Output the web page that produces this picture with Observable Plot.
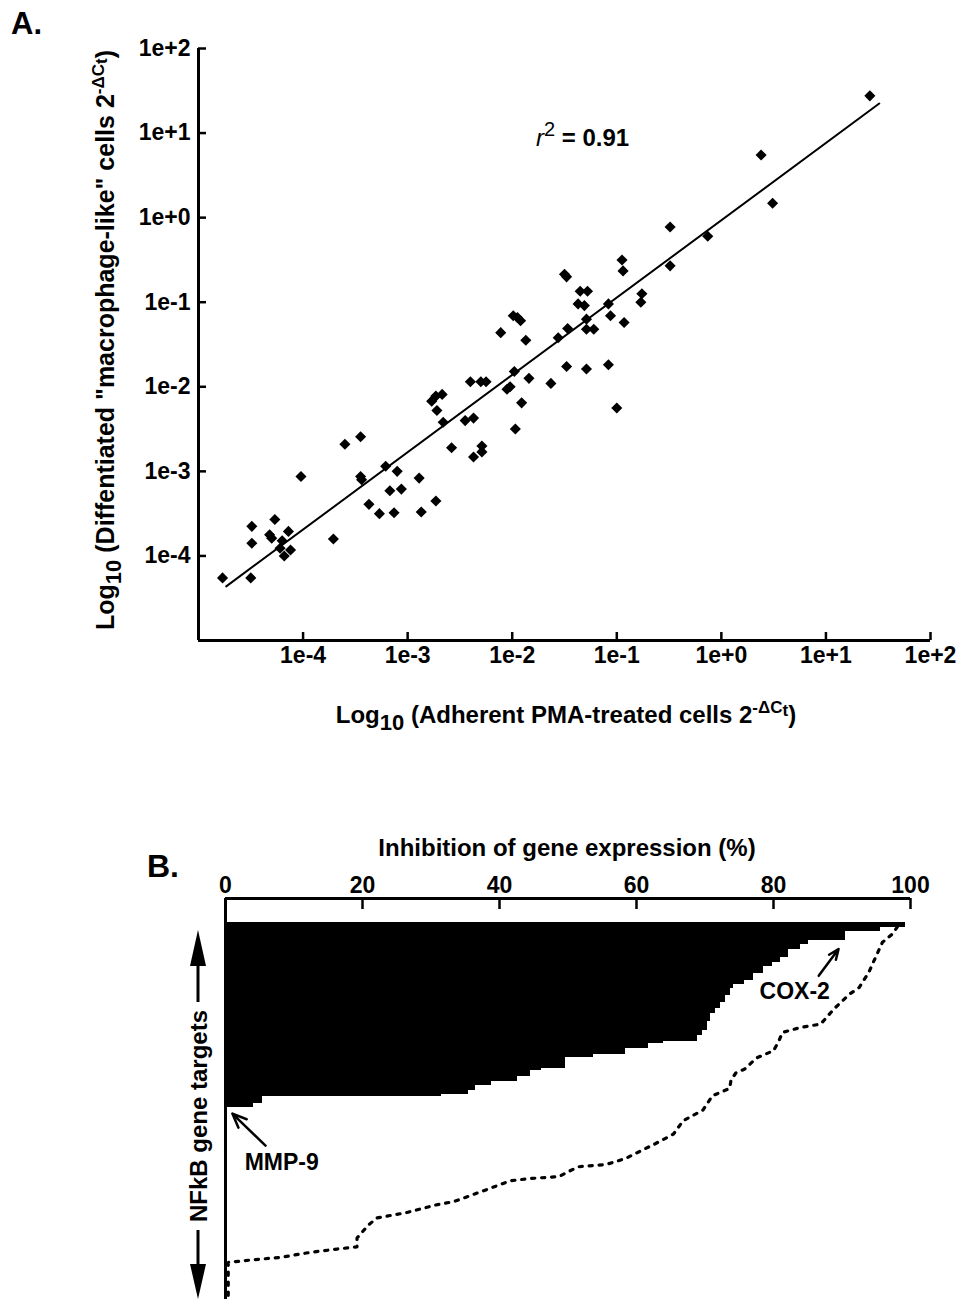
<!DOCTYPE html>
<html><head><meta charset="utf-8">
<script src="https://cdn.jsdelivr.net/npm/d3@7"></script>
<script src="https://cdn.jsdelivr.net/npm/@observablehq/plot@0.6"></script>
<style>
body{margin:0;background:#fff;}
#wrap{position:relative;width:966px;height:1299px;overflow:hidden;background:#fff;}
#a{position:absolute;left:0;top:0;}
#b{position:absolute;left:0;top:820px;}
svg text{font-family:"Liberation Sans",Arial,sans-serif;}
</style></head><body><div id="wrap"><div id="a"></div><div id="b"></div></div>
<script>
// ---------- Panel A data (log10 of 2^-dCt values) ----------
const adherentLog10 = [-4.77,-4.50,-4.49,-4.49,-4.27,-4.32,-4.30,-4.20,-4.22,-4.18,-4.12,-4.14,-4.02,-3.71,-3.60,-3.45,-3.45,-3.44,-3.37,-3.27,-3.21,-3.17,-3.13,-3.10,-3.06,-2.89,-2.87,-2.73,-2.77,-2.73,-2.67,-2.72,-2.66,-2.58,-2.45,-2.40,-2.30,-2.25,-2.37,-2.37,-2.29,-2.29,-2.11,-1.99,-1.95,-1.92,-1.87,-2.05,-2.02,-1.98,-1.97,-1.91,-1.84,-1.63,-1.56,-1.48,-1.47,-1.37,1.42,0.38,0.49,-0.49,-0.13,-0.49,-1.50,-1.48,-0.95,-0.94,-1.35,-1.28,-1.31,-1.08,-1.06,-0.93,-0.76,-0.77,-1.29,-1.29,-1.22,-1.29,-1.08,-1.00];
const differentiatedLog10 = [-4.26,-4.26,-3.85,-3.65,-3.57,-3.75,-3.79,-3.82,-3.91,-4.00,-3.93,-3.71,-3.06,-3.80,-2.68,-2.59,-3.06,-3.10,-3.39,-3.50,-2.94,-3.23,-3.49,-3.00,-3.21,-3.08,-3.48,-3.35,-2.17,-2.11,-2.09,-2.28,-2.42,-2.72,-2.40,-1.94,-1.94,-1.94,-2.37,-2.83,-2.70,-2.77,-1.36,-1.16,-1.18,-1.22,-1.45,-2.03,-2.00,-1.82,-2.50,-2.19,-1.90,-1.96,-1.42,-1.76,-1.31,-1.02,1.44,0.74,0.17,-0.11,-0.22,-0.57,-0.67,-0.70,-0.50,-0.63,-0.87,-0.87,-1.04,-1.02,-1.16,-1.24,-0.90,-1.00,-1.20,-1.32,-1.32,-1.79,-1.74,-2.25];
const fitLog10X = [-4.735, 1.51];
const fitLog10Y = [-4.36, 1.35];
const logTicks = [1e-4, 1e-3, 1e-2, 1e-1, 1e0, 1e1, 1e2];
const logTickLabels = ["1e-4","1e-3","1e-2","1e-1","1e+0","1e+1","1e+2"];
const rSquared = "0.91";

// ---------- Panel B data ----------
const inhibitionSteps = [99.3,95.6,90.5,85.1,84,82.2,81,79.8,78.6,77.1,75.7,74.2,73.7,73,72.3,71.5,70.8,70.3,69.6,68.9,64,61.8,58.4,53.7,49.6,46.2,44.5,42.6,38.9,36.5,35.5,31.6,5.4,4.1];
const genesPerStep = [2,2,4,2,2,4,2,2,3,3,2,2,3,3,3,2,4,4,2,3,1,2,3,1,5,1,3,2,2,2,2,1,3,2];
const dottedInhibition = [98.1,97.4,95.9,95.0,93.9,92.5,91.1,88.8,86.9,84.0,81.3,80.8,80.0,77.5,75.8,74.5,73.8,73.6,71.1,69.7,66.8,65.4,62.8,58.4,55.6,51.4,48.7,44.5,41.6,37.7,33.4,30.7,26.5,22.1,20.9,19.2,19.2,16.3,12.2,8.0,3.6,0.4,0.4];
const dottedRank = [1.8,5.0,8.9,15.0,22.6,29.4,32.4,39.2,46.0,47.5,49.8,53.6,58.1,61.4,66.4,68.2,71.4,75.2,78.5,85.0,89.9,95.9,100.2,107.0,109.7,110.8,115.2,116.1,117.1,121.6,126.5,128.1,131.5,134.0,137.1,143.1,147.1,148.1,149.7,151.9,153.1,154.2,171];
const pctTicks = [0, 20, 40, 60, 80, 100];
const annotLabels = ["MMP-9", "COX-2"];
const annotTextX = [2.8, 83.1];
const annotTextY = [108.9, 31.1];
const annotArrowFrom = [[5.84, 101.2], [86.6, 24.1]];
const annotArrowTo = [[1.0, 86.6], [89.5, 11.9]];

const FONT = "Liberation Sans, Arial, sans-serif";
const W = 966;

const diamondSym = {draw(ctx, size) {const r = Math.sqrt(size) * 0.62625; ctx.moveTo(0, -r); ctx.lineTo(r, 0); ctx.lineTo(0, r); ctx.lineTo(-r, 0); ctx.closePath();}};

// ---------- Panel A ----------
const pts = adherentLog10.map((v, i) => ({x: 10 ** v, y: 10 ** differentiatedLog10[i]}));
const fit = fitLog10X.map((v, i) => ({x: 10 ** v, y: 10 ** fitLog10Y[i]}));
const tickLabel = new Map(logTicks.map((t, i) => [t, logTickLabels[i]]));
const hA = 760, mTA = 48, mBA = 120, mLA = 198, mRA = 36;
const pwA = W - mLA - mRA, phA = hA - mTA - mBA;

const chartA = Plot.plot({
  width: W, height: hA, marginTop: mTA, marginBottom: mBA, marginLeft: mLA, marginRight: mRA,
  style: {fontFamily: FONT, background: "white", color: "black", overflow: "visible"},
  x: {type: "log", domain: [1e-5, 1e2], label: null},
  y: {type: "log", domain: [1e-5, 1e2], label: null},
  marks: [
    Plot.axisX({ticks: logTicks, tickFormat: d => tickLabel.get(d), tickSize: 0, tickPadding: 6, fontSize: 23, fontWeight: "bold", label: null}),
    Plot.axisY({ticks: logTicks, tickFormat: d => tickLabel.get(d), tickSize: 0, tickPadding: 8, fontSize: 23, fontWeight: "bold", label: null}),
    Plot.ruleX(logTicks, {x: d => d, insetTop: phA - 8, strokeWidth: 2.5}),
    Plot.ruleY(logTicks, {y: d => d, insetRight: pwA - 8, strokeWidth: 2.5}),
    Plot.ruleX([1e-5], {strokeWidth: 3}),
    Plot.ruleY([1e-5], {strokeWidth: 3}),
    Plot.line(fit, {x: "x", y: "y", stroke: "black", strokeWidth: 2}),
    Plot.dot(pts, {x: "x", y: "y", symbol: diamondSym, r: 5, fill: "black"})
  ]
});
document.getElementById("a").append(chartA);
const svgA = d3.select(chartA);
svgA.append("text").attr("x", 11).attr("y", 34).attr("text-anchor", "start").attr("font-size", 31).attr("font-weight", "bold").attr("fill", "black").text("A.");
{
  const t = svgA.append("text").attr("x", 536).attr("y", 146).attr("text-anchor", "start").attr("font-size", 24).attr("fill", "black");
  t.append("tspan").attr("font-style", "italic").text("r");
  t.append("tspan").attr("font-size", 20).attr("dy", -10).text("2");
  t.append("tspan").attr("dy", 10).attr("font-weight", "bold").text(" = " + rSquared);
}
function axisTitle(sel, main) {
  sel.append("tspan").text("Log");
  sel.append("tspan").attr("font-size", 22).attr("dy", 7).text("10");
  sel.append("tspan").attr("dy", -7).text(" (" + main + " 2");
  sel.append("tspan").attr("font-size", 17).attr("dy", -10).text("-\u0394C");
  sel.append("tspan").attr("font-size", 17).attr("dy", 3).text("t");
  sel.append("tspan").attr("dy", 7).text(")");
}
axisTitle(svgA.append("text").attr("x", 566).attr("y", 723).attr("text-anchor", "middle").attr("font-size", 24).attr("font-weight", "bold").attr("fill", "black"), "Adherent PMA-treated cells");
axisTitle(svgA.append("text").attr("transform", "translate(114,340) rotate(-90)").attr("text-anchor", "middle").attr("font-size", 25).attr("font-weight", "bold").attr("fill", "black"), "Diffentiated \"macrophage-like\" cells");

// ---------- Panel B ----------
const rows = [];
{let r = 0; inhibitionSteps.forEach((v, i) => {rows.push({x2: v, y1: r, y2: r + genesPerStep[i]}); r += genesPerStep[i];});}
const dotted = dottedInhibition.map((v, i) => ({x: v, y: dottedRank[i]}));
const annots = annotLabels.map((label, i) => ({label, tx: annotTextX[i], ty: annotTextY[i], x1: annotArrowFrom[i][0], y1: annotArrowFrom[i][1], x2: annotArrowTo[i][0], y2: annotArrowTo[i][1]}));
const hB = 479, mTB = 78, mBB = 0, mLB = 225, mRB = 56;
const phB = hB - mTB - mBB;

const chartB = Plot.plot({
  width: W, height: hB, marginTop: mTB, marginBottom: mBB, marginLeft: mLB, marginRight: mRB,
  style: {fontFamily: FONT, background: "white", color: "black", overflow: "visible"},
  x: {domain: [0, 100], label: null},
  y: {domain: [-11, 171], reverse: true, axis: null},
  marks: [
    Plot.rect(rows, {x1: d => 0, x2: "x2", y1: "y1", y2: "y2", fill: "black", shapeRendering: "crispEdges"}),
    Plot.line(dotted, {x: "x", y: "y", stroke: "black", strokeWidth: 3.2, strokeDasharray: "3.2,6.8"}),
    Plot.ruleY([-11], {strokeWidth: 3}),
    Plot.ruleX([0], {strokeWidth: 3}),
    Plot.ruleX(pctTicks.slice(1), {x: d => d, insetBottom: phB - 11, strokeWidth: 2.5}),
    Plot.axisX({anchor: "top", ticks: pctTicks, tickSize: 0, tickPadding: 6, fontSize: 23, fontWeight: "bold", label: null}),
    Plot.arrow(annots, {x1: "x1", y1: "y1", x2: "x2", y2: "y2", stroke: "black", strokeWidth: 2.5, headLength: 13, headAngle: 45}),
    Plot.text(annots.slice(0, 1), {x: "tx", y: "ty", text: "label", textAnchor: "start", lineAnchor: "middle", fontSize: 23, fontWeight: "bold", fill: "black"}),
    Plot.text(annots.slice(1), {x: "tx", y: "ty", text: "label", textAnchor: "middle", lineAnchor: "middle", fontSize: 23, fontWeight: "bold", fill: "black"})
  ]
});
document.getElementById("b").append(chartB);
const svgB = d3.select(chartB);
svgB.append("text").attr("x", 147).attr("y", 57).attr("text-anchor", "start").attr("font-size", 32).attr("font-weight", "bold").attr("fill", "black").text("B.");
svgB.append("text").attr("x", 567).attr("y", 36).attr("text-anchor", "middle").attr("font-size", 24).attr("font-weight", "bold").attr("fill", "black").text("Inhibition of gene expression (%)");
svgB.append("text").attr("transform", "translate(207,296) rotate(-90)").attr("text-anchor", "middle").attr("font-size", 24).attr("font-weight", "bold").attr("fill", "black").text("NFkB gene targets");
const ax = 198;
svgB.append("line").attr("x1", ax).attr("x2", ax).attr("y1", 140).attr("y2", 182).attr("stroke", "black").attr("stroke-width", 3);
svgB.append("path").attr("d", `M${ax},110L${ax + 8},146L${ax - 8},146Z`).attr("fill", "black");
svgB.append("line").attr("x1", ax).attr("x2", ax).attr("y1", 410).attr("y2", 448).attr("stroke", "black").attr("stroke-width", 3);
svgB.append("path").attr("d", `M${ax},479L${ax + 8},444L${ax - 8},444Z`).attr("fill", "black");
</script></body></html>
